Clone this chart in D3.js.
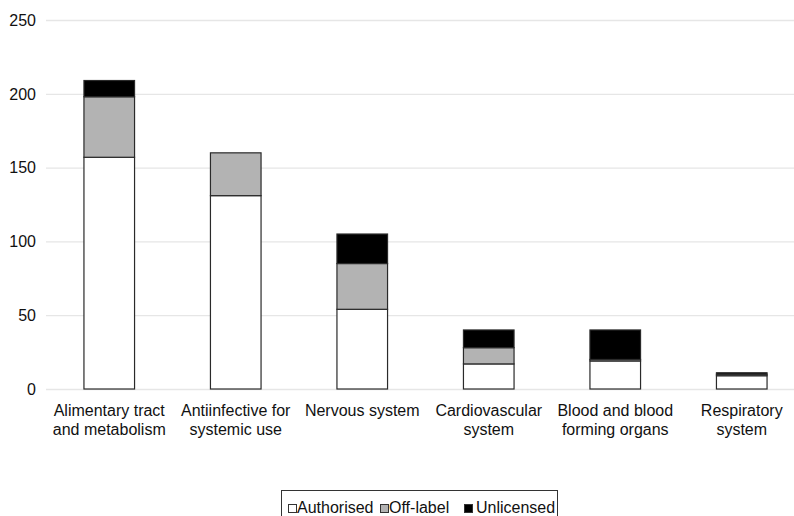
<!DOCTYPE html>
<html>
<head>
<meta charset="utf-8">
<script src="https://cdn.jsdelivr.net/npm/d3@7"></script>
<style>
	body { margin: 0; background: #fff; }
	svg { display: block; font-family: 'Liberation Sans', Arial, Helvetica, sans-serif; }
	.tickLabel, .xLabel, .legendText { font-size: 16px; fill: #111; }
</style>
</head>
<body>
<div id="chart"></div>
<script>
// categories (two-line labels)
const categories = [
	[ 'Alimentary tract', 'and metabolism' ],
	[ 'Antiinfective for', 'systemic use' ],
	[ 'Nervous system' ],
	[ 'Cardiovascular', 'system' ],
	[ 'Blood and blood', 'forming organs' ],
	[ 'Respiratory', 'system' ]
];

// series values
const authorised = [ 157, 131, 54, 17, 19, 9 ];
const offLabel = [ 41, 29, 31, 11, 1, 1 ];
const unlicensed = [ 11, 0, 20, 12, 20, 1 ];

const seriesNames = [ 'Authorised', 'Off-label', 'Unlicensed' ];
const seriesColors = [ '#ffffff', '#b3b3b3', '#000000' ];

const yTicks = [ 0, 50, 100, 150, 200, 250 ];

/* BASIC SETUP */
const width = 794;
const height = 516;
const margin = { top: 20, left: 46, right: 0, bottom: 127 };

const svg = d3.select('#chart').append('svg').attr('width', width).attr('height', height);

// build table for stacking
const table = categories.map(function(c, i) {
	return { key: i, Authorised: authorised[i], 'Off-label': offLabel[i], Unlicensed: unlicensed[i] };
});
const stacked = d3.stack().keys(seriesNames)(table);

/* SCALES */
const xScale = d3
	.scaleBand()
	.domain(table.map((d) => d.key))
	.range([ margin.left, 805 ])
	.paddingInner(0.6)
	.paddingOuter(0.3);

const yScale = d3.scaleLinear().domain([ 0, 250 ]).range([ height - margin.bottom, margin.top ]);

/* GRIDLINES */
svg
	.append('g')
	.selectAll('line')
	.data(yTicks)
	.enter()
	.append('line')
	.attr('x1', margin.left)
	.attr('x2', width)
	.attr('y1', (d) => yScale(d) + 0.5)
	.attr('y2', (d) => yScale(d) + 0.5)
	.attr('stroke', '#e6e6e6')
	.attr('stroke-width', 1.3);

// y tick labels
svg
	.append('g')
	.selectAll('text')
	.data(yTicks)
	.enter()
	.append('text')
	.attr('class', 'tickLabel')
	.attr('x', 36)
	.attr('y', (d) => yScale(d))
	.attr('dy', '0.36em')
	.attr('text-anchor', 'end')
	.text((d) => d);

/* BARS */
const plot = svg.append('g');

plot
	.selectAll('.series')
	.data(stacked)
	.enter()
	.append('g')
	.attr('class', 'series')
	.attr('fill', (d, i) => seriesColors[i])
	.selectAll('rect')
	.data((d) => d.filter((s) => s[1] > s[0]))
	.enter()
	.append('rect')
	.attr('x', (d) => xScale(d.data.key))
	.attr('width', xScale.bandwidth())
	.attr('y', (d) => yScale(d[1]))
	.attr('height', (d) => yScale(d[0]) - yScale(d[1]))
	.attr('stroke', '#2a2a2a')
	.attr('stroke-width', 1.2);

/* X LABELS */
const xLabels = svg
	.append('g')
	.selectAll('text')
	.data(categories)
	.enter()
	.append('text')
	.attr('class', 'xLabel')
	.attr('text-anchor', 'middle')
	.attr('x', (d, i) => xScale(i) + xScale.bandwidth() / 2)
	.attr('y', 416);

xLabels
	.selectAll('tspan')
	.data((d) => d)
	.enter()
	.append('tspan')
	.attr('x', function() {
		return d3.select(this.parentNode).attr('x');
	})
	.attr('dy', (d, i) => (i === 0 ? 0 : 19))
	.text((d) => d);

/* LEGEND */
const legend = svg.append('g');

legend
	.append('rect')
	.attr('x', 281.5)
	.attr('y', 490.5)
	.attr('width', 276)
	.attr('height', 30)
	.attr('fill', 'none')
	.attr('stroke', '#333')
	.attr('stroke-width', 1);

const legendItems = [
	{ sx: 288, tx: 297 },
	{ sx: 380, tx: 389 },
	{ sx: 464, tx: 476 }
];

legend
	.selectAll('.legendSwatch')
	.data(seriesNames)
	.enter()
	.append('rect')
	.attr('class', 'legendSwatch')
	.attr('x', (d, i) => legendItems[i].sx + 0.5)
	.attr('y', 504.5)
	.attr('width', 8)
	.attr('height', 8)
	.attr('fill', (d, i) => seriesColors[i])
	.attr('stroke', '#333')
	.attr('stroke-width', 1);

legend
	.selectAll('.legendText')
	.data(seriesNames)
	.enter()
	.append('text')
	.attr('class', 'legendText')
	.attr('x', (d, i) => legendItems[i].tx)
	.attr('y', 513)
	.text((d) => d);
</script>
</body>
</html>
